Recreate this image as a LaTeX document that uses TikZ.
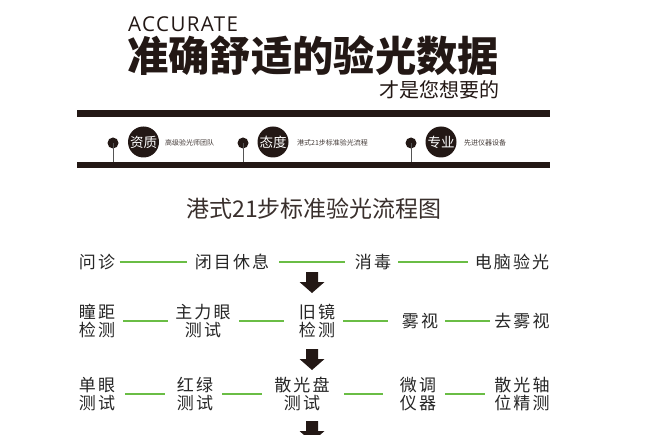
\documentclass[tikz,border=0pt]{standalone}
\usepackage{fontspec}
\newfontfamily\cjk{Noto Sans CJK SC}
\newfontfamily\cjkls[LetterSpace=12]{Noto Sans CJK SC}
\newfontfamily\latinsans[LetterSpace=7]{Open Sans}
\usetikzlibrary{calc}
\definecolor{ink}{HTML}{231815}
\definecolor{rowtext}{HTML}{262626}
\definecolor{linkgreen}{HTML}{6ABD45}
\definecolor{stemgray}{HTML}{555555}
\begin{document}
\begin{tikzpicture}[x=1pt,y=-1pt,
  barfill/.style={fill=ink},
  dotnode/.style={circle,fill=ink,minimum size=11pt,inner sep=0pt},
  badge/.style={circle,fill=ink,minimum size=31pt,inner sep=0pt,text=white,font=\cjk\fontsize{13.5}{14}\selectfont},
  smalltext/.style={anchor=west,inner sep=0pt,text=ink!85,font=\cjk\fontsize{7}{8}\selectfont},
  stepnode/.style={inner sep=0pt,text=rowtext,align=center,font=\cjkls\fontsize{17}{17.5}\selectfont},
  gl/.style={draw=linkgreen,line width=2.5pt},
  stem/.style={draw=stemgray,line width=1pt},
  dnarrow/.pic={\fill[ink] (-6,0) -- (6,0) -- (6,10) -- (12.5,10) -- (0,21) -- (-12.5,10) -- (-6,10) -- cycle;}
]
\useasboundingbox (0,0) rectangle (660,435);
\clip (0,0) rectangle (660,435);
\fill[white] (0,0) rectangle (660,435);

% header texts
\node[anchor=base west,inner sep=0pt,font=\latinsans\fontsize{20.5}{21}\selectfont,text=ink] (acc) at (128,32) {ACCURATE};
\node[anchor=west,inner sep=0pt,font=\cjk\bfseries\fontsize{41.3}{42}\selectfont,text=ink] (maintitle) at (127,56) {准确舒适的验光数据};
\node[anchor=east,inner sep=0pt,font=\cjk\fontsize{20}{21}\selectfont,text=ink] (sub) at (500,89.5) {才是您想要的};

% bars
\fill[barfill] (77,110) rectangle (550,117);
\fill[barfill] (77,162) rectangle (550,168);
\coordinate (barB) at (0,162);

% dots and stems
\node[dotnode] (d1) at (113,143) {};
\node[dotnode] (d2) at (243,143) {};
\node[dotnode] (d3) at (411,143) {};
\draw[stem] (d1.center) -- (d1 |- barB);
\draw[stem] (d2.center) -- (d2 |- barB);
\draw[stem] (d3.center) -- (d3 |- barB);

% badges
\node[badge] (b1) at (143.5,142) {资质};
\node[badge] (b2) at (273,142) {态度};
\node[badge] (b3) at (441,142) {专业};
\node[smalltext] (s1) at (165,143) {高级验光师团队};
\node[smalltext] (s2) at (297,143) {港式21步标准验光流程};
\node[smalltext] (s3) at (464,143) {先进仪器设备};

% title
\node[font=\cjk\fontsize{23}{24}\selectfont,text=ink!90,inner sep=0pt] (title) at (314,208.5) {港式21步标准验光流程图};

% row 1
\node[stepnode] (wz) at (97,262) {问诊};
\node[stepnode] (bm) at (232,262) {闭目休息};
\node[stepnode] (xd) at (373,262) {消毒};
\node[stepnode] (dn) at (512,262) {电脑验光};
\draw[gl,shorten <=4.5pt,shorten >=8pt] (wz) -- (bm);
\draw[gl,shorten <=10pt,shorten >=10pt] (bm) -- (xd);
\draw[gl,shorten <=7pt,shorten >=7pt] (xd) -- (dn);

% row 2
\node[stepnode] (tj) at (97,321) {瞳距\\检测};
\node[stepnode] (zly) at (203,321) {主力眼\\测试};
\node[stepnode] (jj) at (317,321) {旧镜\\检测};
\node[stepnode] (ws) at (420,321) {雾视};
\node[stepnode] (qws) at (522,321) {去雾视};
\draw[gl,shorten <=8pt,shorten >=7.5pt] (tj) -- (zly);
\draw[gl,shorten <=8.5pt,shorten >=15pt] (zly) -- (jj);
\draw[gl,shorten <=8pt,shorten >=14pt] (jj) -- (ws);
\draw[gl,shorten <=7pt,shorten >=4.5pt] (ws) -- (qws);

% row 3
\node[stepnode] (dy) at (97,394) {单眼\\测试};
\node[stepnode] (hl) at (195,394) {红绿\\测试};
\node[stepnode] (sgp) at (302,394) {散光盘\\测试};
\node[stepnode] (wt) at (418,394) {微调\\仪器};
\node[stepnode] (sgz) at (522,394) {散光轴\\位精测};
\draw[gl,shorten <=10pt,shorten >=12pt] (dy) -- (hl);
\draw[gl,shorten <=9pt,shorten >=12.5pt] (hl) -- (sgp);
\draw[gl,shorten <=14.5pt,shorten >=17pt] (sgp) -- (wt);
\draw[gl,shorten <=9pt,shorten >=9.5pt] (wt) -- (sgz);

% block arrows
\pic at (312,272) {dnarrow};
\pic at (312,349) {dnarrow};
\pic at (312,421) {dnarrow};
\end{tikzpicture}
\end{document}
